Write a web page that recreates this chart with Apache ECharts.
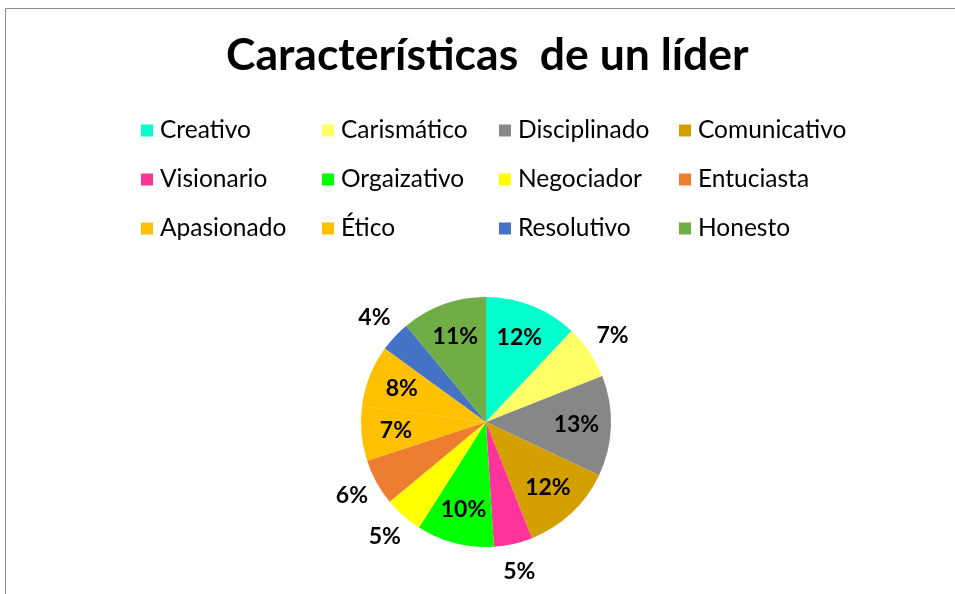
<!DOCTYPE html>
<html>
<head>
<meta charset="utf-8">
<script src="https://cdn.jsdelivr.net/npm/echarts@6/dist/echarts.min.js"></script>
<style>
  html, body { margin: 0; padding: 0; background: #fff; }
  #chart { width: 955px; height: 594px; }
</style>
</head>
<body>
<div id="chart"></div>
<script>
// datos (porcentajes)
var categorias = ['Creativo', 'Carismático', 'Disciplinado', 'Comunicativo',
    'Visionario', 'Orgaizativo', 'Negociador', 'Entuciasta',
    'Apasionado', 'Ético', 'Resolutivo', 'Honesto'];
var valores = [12, 7, 13, 12, 5, 10, 5, 6, 7, 8, 4, 11];
var colores = ['#00FFCC', '#FFFF66', '#878787', '#D4A000',
    '#FF3399', '#00FF00', '#FFFF00', '#ED7D31',
    '#FFC000', '#FFC000', '#4472C4', '#70AD47'];
// etiquetas que van fuera del sector
var fuera = ['Carismático', 'Visionario', 'Negociador', 'Entuciasta', 'Resolutivo'];

var fuente = 'Lato';
var centro = [486, 422];

var datosPie = function (modo) {
    return categorias.map(function (n, i) {
        var item = { name: n, value: valores[i] };
        if (modo === 'color') {
            item.itemStyle = { color: colores[i] };
        } else {
            var esFuera = fuera.indexOf(n) >= 0;
            item.label = { show: modo === 'fuera' ? esFuera : !esFuera };
        }
        return item;
    });
};

var etiqueta = {
    position: 'inside',
    formatter: '{d}%',
    color: '#000',
    fontFamily: fuente,
    fontWeight: 'bold',
    fontSize: 23
};

var leyendas = [];
var colX = [141, 322, 499, 679];
for (var c = 0; c < 4; c++) {
    leyendas.push({
        orient: 'vertical',
        left: colX[c],
        top: 118,
        padding: 0,
        itemWidth: 12,
        itemHeight: 12,
        itemGap: 24,
        icon: 'rect',
        data: [categorias[c], categorias[c + 4], categorias[c + 8]],
        textStyle: { fontFamily: fuente, fontSize: 24.5, lineHeight: 24, color: '#000', padding: [0, 0, 0, 2] }
    });
}

var myChart = echarts.init(document.getElementById('chart'));
myChart.setOption({
    animation: false,
    title: {
        text: 'Características  de un líder',
        left: 226,
        top: 33,
        padding: 0,
        textStyle: { fontFamily: fuente, fontWeight: 'bold', fontSize: 44.5, color: '#000' }
    },
    legend: leyendas,
    graphic: [{
        type: 'rect',
        shape: { x: 5.5, y: 8.5, width: 1000, height: 700 },
        style: { fill: 'none', stroke: '#8c8c8c', lineWidth: 1 },
        silent: true
    }],
    series: [
        {
            name: 'colores',
            type: 'pie',
            center: centro,
            radius: [0, 125],
            startAngle: 90,
            silent: true,
            label: { show: false },
            labelLine: { show: false },
            itemStyle: { borderWidth: 0 },
            data: datosPie('color')
        },
        {
            name: 'dentro',
            type: 'pie',
            center: centro,
            radius: [50, 125],
            startAngle: 90,
            silent: true,
            itemStyle: { color: 'transparent', borderWidth: 0 },
            label: etiqueta,
            labelLine: { show: false },
            data: datosPie('dentro')
        },
        {
            name: 'fuera',
            type: 'pie',
            center: centro,
            radius: [125, 175],
            startAngle: 90,
            silent: true,
            itemStyle: { color: 'transparent', borderWidth: 0 },
            label: etiqueta,
            labelLine: { show: false },
            data: datosPie('fuera')
        }
    ]
});
window.onresize = myChart.resize;
</script>
</body>
</html>
